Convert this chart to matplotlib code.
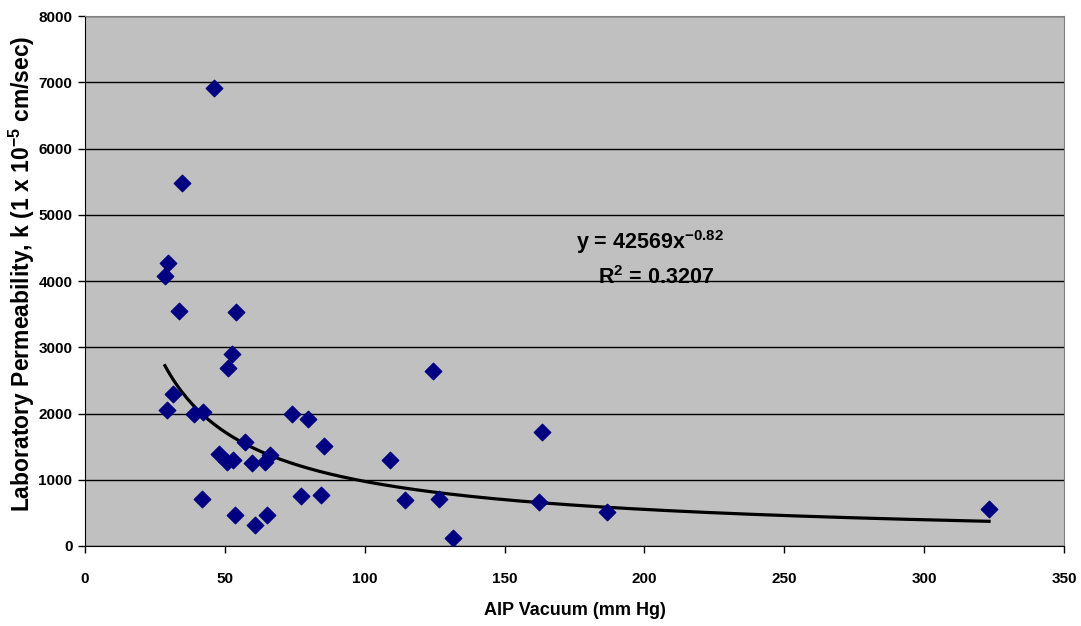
import numpy as np
import matplotlib
matplotlib.use("Agg")
from matplotlib import pyplot as plt

plt.rcParams['font.family'] = ['Liberation Sans', 'DejaVu Sans']
plt.rcParams['font.weight'] = 'bold'
plt.rcParams['mathtext.fontset'] = 'custom'
plt.rcParams['mathtext.rm'] = 'Liberation Sans:bold'
plt.rcParams['mathtext.bf'] = 'Liberation Sans:bold'
plt.rcParams['mathtext.default'] = 'bf'

# AIP vacuum (mm Hg) and lab permeability values
vacuum = [28.6, 29.7, 34.7, 33.6, 31.5, 29.3, 39.0, 42.2, 41.8, 46.1,
          47.9, 50.8, 52.9, 51.1, 52.6, 54.0, 53.6, 57.2, 59.7, 60.8,
          64.4, 65.1, 66.1, 74.0, 77.2, 79.7, 84.4, 85.4, 109.0, 114.4,
          124.4, 126.6, 131.6, 162.3, 163.4, 186.6, 323.2]
permeability = [4075, 4272, 5479, 3547, 2294, 2053, 1992, 2023, 709, 6913,
                1389, 1268, 1298, 2687, 2898, 3532, 468, 1570, 1253, 317,
                1268, 468, 1374, 1992, 755, 1917, 770, 1509, 1298, 694,
                2642, 709, 121, 664, 1721, 513, 558]

# power trendline as shown on the chart
coef = 42569
expo = -0.82

fig = plt.figure(figsize=(10.81, 6.26), dpi=100)
ax = fig.add_axes([0.0786, 0.1278, 0.9057, 0.8466])
ax.set_facecolor('#C0C0C0')

xs = np.linspace(min(vacuum), max(vacuum), 300)
ax.plot(xs, coef * xs ** expo, color='black', lw=2.3, zorder=2)
ax.scatter(vacuum, permeability, marker='D', s=70, color='#000080',
           edgecolors='#000080', zorder=3)

ax.set_xlim(0, 350)
ax.set_ylim(0, 8000)
ax.set_xticks(range(0, 351, 50))
ax.set_yticks(range(0, 8001, 1000))
ax.yaxis.grid(True, color='black', lw=1)
ax.set_axisbelow(True)

for side in ['top', 'right']:
    ax.spines[side].set_color('#808080')
for side in ['left', 'bottom']:
    ax.spines[side].set_color('black')
ax.tick_params(direction='out', length=5, width=1, labelsize=11)
ax.tick_params(axis='x', pad=14)
ax.tick_params(axis='y', pad=4)
for lbl in ax.get_xticklabels() + ax.get_yticklabels():
    lbl.set_fontweight('bold')

ax.set_xlabel('AIP Vacuum (mm Hg)', fontsize=13, fontweight='bold', labelpad=11)
ax.set_ylabel('Laboratory Permeability, k (1 x 10$^{-5}$ cm/sec)',
              fontsize=16.5, fontweight='bold')
ax.yaxis.set_label_coords(-0.049, 0.513)

ax.text(202, 4590, 'y = 42569x$^{-0.82}$', fontsize=15.5,
        fontweight='bold', ha='center', va='center')
ax.text(204, 4045, 'R$^{2}$ = 0.3207', fontsize=15.5,
        fontweight='bold', ha='center', va='center')

fig.savefig('out.png', dpi=100)
